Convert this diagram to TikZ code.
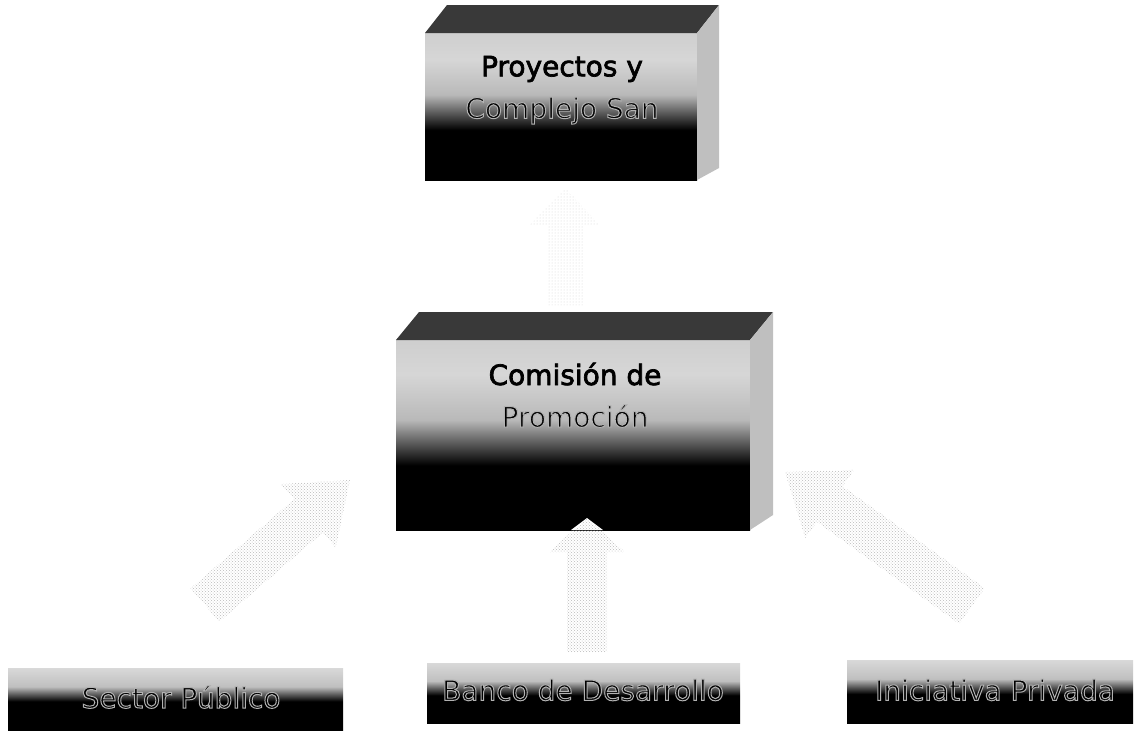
\documentclass[tikz,border=0pt]{standalone}
\usepackage{fontspec}
\setmainfont{DejaVu Sans}
\usetikzlibrary{patterns,calc}
\pgfdeclareverticalshading{frontsh}{100bp}{color(0bp)=(black); color(25bp)=(black); color(42bp)=(black); color(54bp)=(gray!55); color(66bp)=(gray!32); color(75bp)=(gray!38); color(100bp)=(gray!38)}
\pgfdeclareverticalshading{lowsh}{100bp}{color(0bp)=(black); color(25bp)=(black); color(48bp)=(black); color(60bp)=(gray!50); color(75bp)=(gray!30); color(100bp)=(gray!30)}
\newcommand\outl[1]{\special{pdf:literal direct 2 Tr 1.0 w 0.7 G}#1\special{pdf:literal direct 0 Tr}}
\newcommand\dk[1]{\special{pdf:literal direct 2 Tr 0.7 w 0 G}#1\special{pdf:literal direct 0 Tr}}
\begin{document}
\begin{tikzpicture}[x=1pt,y=-1pt,
  front/.style={inner sep=0pt, outer sep=0pt, shading=frontsh, draw=none},
  low/.style={inner sep=0pt, outer sep=0pt, shading=lowsh, draw=none},
  topface/.style={fill=gray!45!black},
  sideface/.style={fill=gray!50},
  lbl/.style={font=\fontsize{28}{42}\selectfont, align=center, text=black, inner sep=0pt},
  blk/.style={pattern=crosshatch dots, pattern color=gray!55},
  faint/.style={pattern=dots, pattern color=gray!35}]
\useasboundingbox (0,0) rectangle (1137,734);

% top box
\node[front, minimum width=272pt, minimum height=147pt] (pb) at (561,106.5) {};
\fill[topface] (pb.north west) -- ++(22,-28) -- ++(272,0) -- (pb.north east) -- cycle;
\fill[sideface] (pb.north east) -- ++(22,-28) -- ++(0,163) -- (pb.south east) -- cycle;

% middle box
\node[front, minimum width=354pt, minimum height=190pt] (cb) at (573,435) {};
\fill[topface] (cb.north west) -- ++(23,-28) -- ++(354,0) -- (cb.north east) -- cycle;
\fill[sideface] (cb.north east) -- ++(23,-28) -- ++(0,203) -- (cb.south east) -- cycle;

% bottom boxes
\node[low, minimum width=335pt, minimum height=62pt] (sp) at (175.5,699) {};
\node[low, minimum width=313pt, minimum height=60pt] (bd) at (583.5,693) {};
\node[low, minimum width=286pt, minimum height=63pt] (ip) at (990,691.5) {};

% arrows
\coordinate (la) at (350,480);
\coordinate (ra) at (785,472);
\coordinate (ma) at (587,518);
\coordinate (ta) at (565,188);
\fill[blk] (219.4,621.7) -- (322.7,532.6) -- (335.7,547.7) -- (la) -- (280.9,484.1) -- (293.9,499.2) -- (190.6,588.3) -- cycle;
\fill[blk] (984.8,588.1) -- (842.5,486.1) -- (854.2,469.9) -- (ra) -- (805.2,538.1) -- (816.9,521.9) -- (959.2,623.9) -- cycle;
\fill[white] (ma) -- (603,530) -- (571,530) -- cycle;
\fill[blk] (567,652) -- (567,552) -- (549,552) -- (ma) -- (625,552) -- (607,552) -- (607,652) -- cycle;
\fill[faint] (547,305) -- (547,225) -- (530,225) -- (ta) -- (600,225) -- (583,225) -- (583,305) -- cycle;

% texts
\node[lbl] (ptx) at (562,90) {\dk{Proyectos y}\\\outl{Complejo San}};
\node[lbl] (ctx) at (575,395) {\dk{Comisión de}\\\outl{Promoción}};
\node[lbl] (stx) at (181,697) {\outl{Sector Público}};
\node[lbl] (btx) at (583,690) {\outl{Banco de Desarrollo}};
\node[lbl] (itx) at (995,690) {\outl{Iniciativa Privada}};
\end{tikzpicture}
\end{document}
